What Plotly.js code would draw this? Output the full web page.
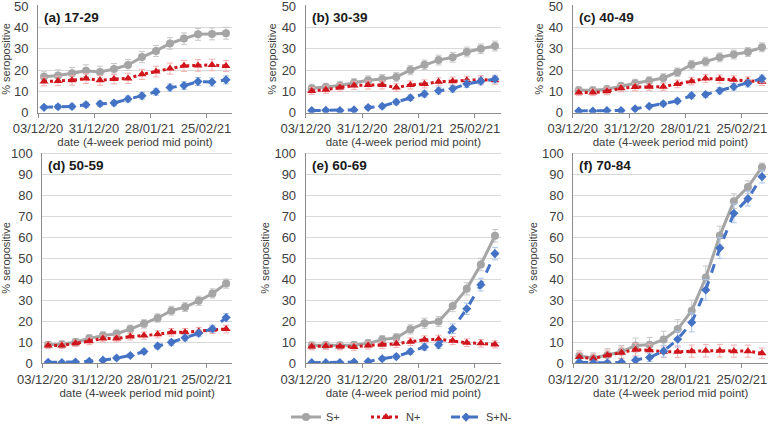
<!DOCTYPE html>
<html><head><meta charset="utf-8">
<script src="https://cdn.plot.ly/plotly-3.0.1.min.js"></script>
<style>html,body{margin:0;padding:0;background:#fff}#chart{width:770px;height:432px}</style>
</head><body><div id="chart"></div>
<script>
const dates = ['2020-12-06','2020-12-13','2020-12-20','2020-12-27','2021-01-03','2021-01-10','2021-01-17','2021-01-24','2021-01-31','2021-02-07','2021-02-14','2021-02-21','2021-02-28','2021-03-07'];
const tickDates = ['2020-12-03','2020-12-31','2021-01-28','2021-02-25'];
const tickLabels = ['03/12/20','31/12/20','28/01/21','25/02/21'];
const panelTitles = ['(a) 17-29','(b) 30-39','(c) 40-49','(d) 50-59','(e) 60-69','(f) 70-84'];
const seriesNames = ['S+','N+','S+N-'];

// (a) 17-29
const sA  = [16.9,17.5,18.5,19.7,19.1,20.5,22.4,26.1,29.0,32.5,34.8,36.8,37.0,37.3];
const nA  = [14.6,14.9,15.2,16.0,15.2,15.8,16.1,18.0,19.3,20.7,22.0,22.2,22.4,21.9];
const snA = [2.5,2.8,2.9,3.7,4.2,4.5,6.4,7.9,9.8,11.8,12.7,14.6,14.4,15.4];
// (b) 30-39
const sB  = [11.5,12.0,12.8,14.0,15.2,15.8,16.8,20.0,22.5,24.7,26.0,28.5,30.0,31.3];
const nB  = [10.2,10.8,11.8,12.8,13.0,13.0,11.8,13.0,13.5,14.5,14.8,15.2,15.5,15.2];
const snB = [1.0,1.1,1.0,1.3,2.4,3.0,5.0,7.0,8.8,10.3,11.2,13.5,14.8,15.8];
// (c) 40-49
const sC  = [10.5,10.5,11.0,12.5,13.8,15.0,16.3,19.0,22.5,24.0,26.0,27.3,28.5,30.7];
const nC  = [9.5,9.5,10.0,11.5,12.0,12.2,12.2,13.5,14.8,16.0,15.8,15.5,15.0,14.5];
const snC = [0.8,0.8,1.0,1.0,1.8,3.0,4.2,5.5,8.0,8.5,10.3,12.2,13.8,16.0];
// (d) 50-59
const sD  = [8.9,9.1,10.2,11.9,13.2,14.1,16.3,18.8,21.6,25.1,26.8,29.8,33.3,38.0];
const nD  = [8.5,8.5,9.5,10.5,11.8,11.8,12.8,13.2,13.8,14.8,14.8,15.3,16.0,16.3];
const snD = [0.5,0.4,0.6,1.0,1.5,2.5,3.7,5.6,8.2,10.0,12.2,14.3,16.5,21.8];
// (e) 60-69
const sE  = [8.5,8.7,8.5,8.7,9.5,11.3,12.2,16.2,19.1,19.9,27.3,35.5,47.1,60.8];
const nE  = [8.0,8.2,8.0,7.8,8.5,8.8,9.3,10.3,11.2,11.5,10.8,9.8,9.5,9.0];
const snE = [0.3,0.3,0.4,0.6,0.8,2.2,3.2,5.6,7.8,8.8,16.5,26.0,37.5,52.3];
// (f) 70-84
const sF  = [3.5,2.5,4.0,5.5,8.5,8.8,11.3,16.3,25.1,40.9,60.9,77.3,84.0,93.5];
const nF  = [3.0,2.3,3.8,5.0,6.5,6.2,5.5,5.5,5.8,6.0,6.0,5.8,5.8,4.8];
const snF = [0.5,0.2,0.2,0.5,1.5,2.8,5.8,11.5,19.5,35.0,55.0,71.5,78.5,89.0];

// error bar half-widths (95% CI)
const eSA  = [2.3,2.6,2.7,2.8,2.7,2.6,2.6,2.6,2.6,2.7,2.7,2.8,2.8,2.8];
const eNA  = [2.0,2.2,2.3,2.3,2.3,2.3,2.4,2.4,2.5,2.6,2.6,2.7,2.7,2.6];
const eSNA = [0.9,1.0,1.1,1.2,1.2,1.3,1.4,1.5,1.6,1.7,1.8,1.9,1.9,1.9];
const eSB  = [1.8,1.8,1.9,2.0,2.1,2.1,2.1,2.2,2.2,2.3,2.3,2.3,2.3,2.3];
const eNB  = [1.6,1.7,1.8,1.9,1.9,1.9,1.8,1.9,1.9,1.9,1.9,1.9,1.9,1.8];
const eSNB = [0.6,0.6,0.6,0.7,0.9,1.0,1.2,1.3,1.5,1.6,1.6,1.7,1.8,1.8];
const eSC  = [1.6,1.6,1.7,1.8,1.9,1.9,2.0,2.0,2.1,2.1,2.1,2.1,2.1,2.1];
const eNC  = [1.5,1.5,1.6,1.7,1.7,1.7,1.7,1.8,1.8,1.9,1.9,1.8,1.8,1.7];
const eSNC = [0.5,0.5,0.5,0.6,0.7,0.9,1.0,1.1,1.3,1.4,1.5,1.6,1.7,1.7];
const eSD  = [1.5,1.5,1.6,1.7,1.8,1.8,1.9,2.0,2.0,2.1,2.1,2.2,2.2,2.2];
const eND  = [1.4,1.4,1.5,1.6,1.6,1.6,1.7,1.7,1.7,1.8,1.8,1.8,1.8,1.8];
const eSND = [0.4,0.4,0.4,0.5,0.6,0.8,0.9,1.1,1.3,1.4,1.5,1.6,1.7,1.9];
const eSE  = [1.7,1.7,1.7,1.7,1.8,1.9,2.0,2.2,2.4,2.4,2.7,2.9,3.0,3.0];
const eNE  = [1.6,1.6,1.6,1.6,1.7,1.7,1.8,1.8,1.9,1.9,1.9,1.8,1.8,1.7];
const eSNE = [0.4,0.4,0.4,0.5,0.6,0.9,1.1,1.4,1.6,1.7,2.3,2.7,3.0,3.0];
const eSF  = [2.5,2.5,3.0,3.0,3.5,3.5,4.0,4.5,5.0,5.5,4.5,3.5,3.0,2.0];
const eNF  = [2.3,2.2,2.5,2.7,2.9,2.9,2.8,2.8,2.9,3.0,3.0,2.9,2.9,2.5];
const eSNF = [0.8,0.6,0.6,0.9,1.5,2.0,2.8,3.8,4.5,5.0,5.0,4.5,3.5,3.0];

const panels = [
  {s:sA,n:nA,sn:snA,es:eSA,en:eNA,esn:eSNA},
  {s:sB,n:nB,sn:snB,es:eSB,en:eNB,esn:eSNB},
  {s:sC,n:nC,sn:snC,es:eSC,en:eNC,esn:eSNC},
  {s:sD,n:nD,sn:snD,es:eSD,en:eND,esn:eSND},
  {s:sE,n:nE,sn:snE,es:eSE,en:eNE,esn:eSNE},
  {s:sF,n:nF,sn:snF,es:eSF,en:eNF,esn:eSNF}
];

const styles = [
  {color:'#A5A5A5', err:'#C8C8C8', dash:'solid', symbol:'circle', size:8},
  {color:'#D0161C', err:'#F2AFAF', dash:'dot', symbol:'triangle-up', size:8},
  {color:'#4472C4', err:'#A9C4EA', dash:'dash', symbol:'diamond', size:7}
];

const W = 770, H = 432;
const xDom = [[38/W,232/W],[305.7/W,501/W],[572.7/W,768/W],[42.3/W,232/W],[305.7/W,501/W],[573.3/W,768/W]];
const yDom = [[1-113.7/H,1-5.44/H],[1-366.7/H,1-153.94/H]];

const traces = [];
const layout = {
  width:W, height:H, margin:{l:0,r:0,t:0,b:0}, paper_bgcolor:'#fff', plot_bgcolor:'#fff',
  font:{family:'Liberation Sans, Arial, sans-serif', size:12, color:'#404040'},
  showlegend:true,
  legend:{orientation:'h', x:286/W, xanchor:'left', y:1-421/H, yanchor:'middle', font:{size:11,color:'#404040'}, itemwidth:30, entrywidth:35, tracegroupgap:0},
  annotations:[]
};

panels.forEach((p,i)=>{
  const ax = i===0 ? '' : String(i+1);
  const xa = 'x'+ax, ya = 'y'+ax;
  const vals = [p.s,p.n,p.sn], errs=[p.es,p.en,p.esn];
  vals.forEach((v,k)=>{
    const st = styles[k];
    traces.push({
      type:'scatter', mode:'lines+markers', x:dates, y:v, xaxis:xa, yaxis:ya,
      name:seriesNames[k], legendgroup:seriesNames[k], showlegend:i===0,
      line:{color:st.color, width:3, dash:st.dash},
      marker:{color:st.color, symbol:st.symbol, size:st.size},
      error_y:{type:'data', array:errs[k], visible:true, color:st.err, thickness:1, width:3}
    });
  });
  const row = i<3 ? 0 : 1;
  layout['xaxis'+ax] = {
    domain:xDom[i], anchor:ya, type:'date', range:['2020-12-03','2021-03-10'],
    tickvals:tickDates, ticktext:tickLabels, ticks:'outside', ticklen:4, tickcolor:'#8c8c8c',
    showline:true, linecolor:'#8c8c8c', linewidth:1, showgrid:false, zeroline:false,
    tickfont:{size:13,color:'#404040'},
    title:{text:'date (4-week period mid point)', font:{size:11.5,color:'#404040'}, standoff:0}
  };
  layout['yaxis'+ax] = {
    domain:yDom[row], anchor:xa, range: row===0 ? [0,50.4] : [0,100.5], tickvals: row===0?[0,10,20,30,40,50]:[0,10,20,30,40,50,60,70,80,90,100],
    showline:true, linecolor:'#8c8c8c', linewidth:1, showgrid:true, gridcolor:'#D9D9D9', zeroline:false,
    ticks:'', tickfont:{size:13,color:'#404040'}, ticklabelstandoff:6, ticklabeloverflow:'allow',
    title:{text:'% seropositive', font:{size:11,color:'#404040'}, standoff:2}
  };
  layout.annotations.push({
    text:'<b>'+panelTitles[i]+'</b>', xref:xa+' domain', yref:ya+' domain', x:0.02, y: row===0?0.975:0.985,
    xanchor:'left', yanchor:'top', showarrow:false, font:{size:13.5,color:'#1a1a1a'}
  });
});

Plotly.newPlot('chart', traces, layout, {staticPlot:true});
</script></body></html>
